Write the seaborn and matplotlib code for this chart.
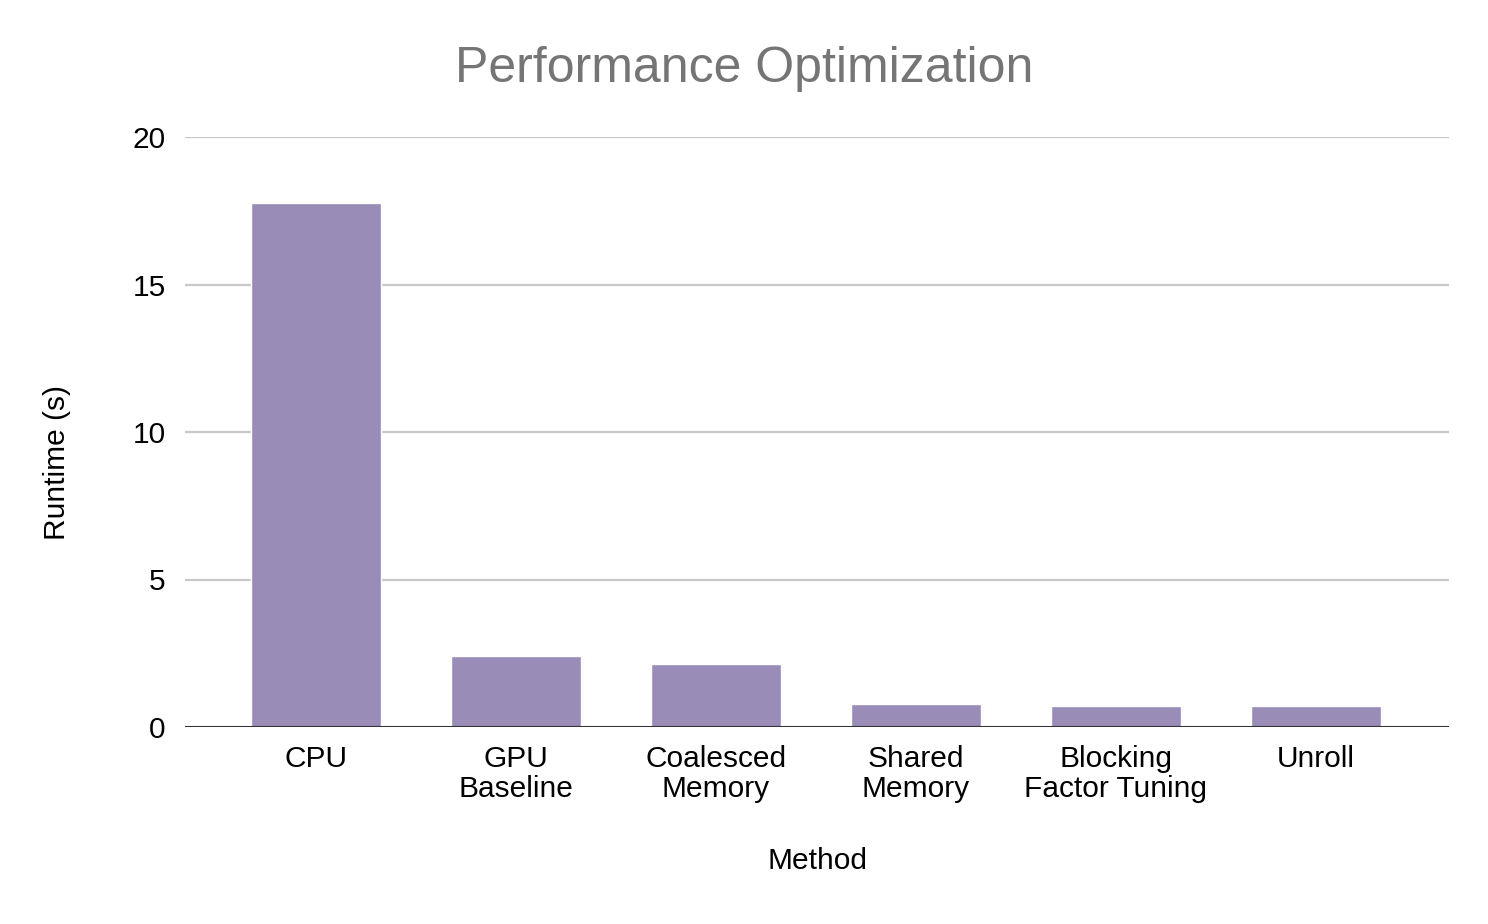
import pandas as pd
import matplotlib.pyplot as plt
import seaborn as sns

# data
methods = ["CPU", "GPU\nBaseline", "Coalesced\nMemory", "Shared\nMemory",
           "Blocking\nFactor Tuning", "Unroll"]
runtimes = [17.75, 2.41, 2.14, 0.78, 0.70, 0.70]
y_ticks = [0, 5, 10, 15, 20]

df = pd.DataFrame({"Method": methods, "Runtime (s)": runtimes})

sns.set_theme(style="white")
plt.rcParams['font.family'] = ['Liberation Sans', 'DejaVu Sans']

fig = plt.figure(figsize=(14.88, 9.24), dpi=100)
ax = fig.add_axes([185 / 1488, 1 - 727 / 924, 1264 / 1488, 590 / 924])

sns.barplot(data=df, x="Method", y="Runtime (s)", color="#998cb7",
            width=0.65, saturation=1, ax=ax, zorder=3)

ax.set_xlim(-0.655, 5.665)
ax.set_ylim(0, 20)
ax.set_yticks(y_ticks)
ax.set_yticklabels([str(t) for t in y_ticks])

# gridlines, dark zero baseline
for t in y_ticks[1:]:
    ax.axhline(t, color="#c8c8c8", lw=1.6, zorder=1)
ax.axhline(0, color="#333333", lw=2.2, zorder=4)

for s in ax.spines.values():
    s.set_visible(False)
ax.tick_params(axis="both", length=0, labelsize=21.5, colors="#000000")
ax.tick_params(axis="x", pad=13)
ax.tick_params(axis="y", pad=14)
for lbl in ax.get_xticklabels():
    lbl.set_linespacing(1.08)

ax.set_xlabel("Method", fontsize=21.5, color="#000000")
ax.set_ylabel("Runtime (s)", fontsize=21.5, color="#000000")
ax.xaxis.set_label_coords(0.5, (727 - 861) / 590)
ax.xaxis.label.set_va("center")
ax.yaxis.set_label_coords((57 - 185) / 1264, (727 - 462) / 590)
ax.yaxis.label.set_va("center")

fig.text(0.5, 1 - 69 / 924, "Performance Optimization", fontsize=36,
         color="#757575", ha="center", va="center")

plt.savefig("out.png", dpi=100)
plt.close()
